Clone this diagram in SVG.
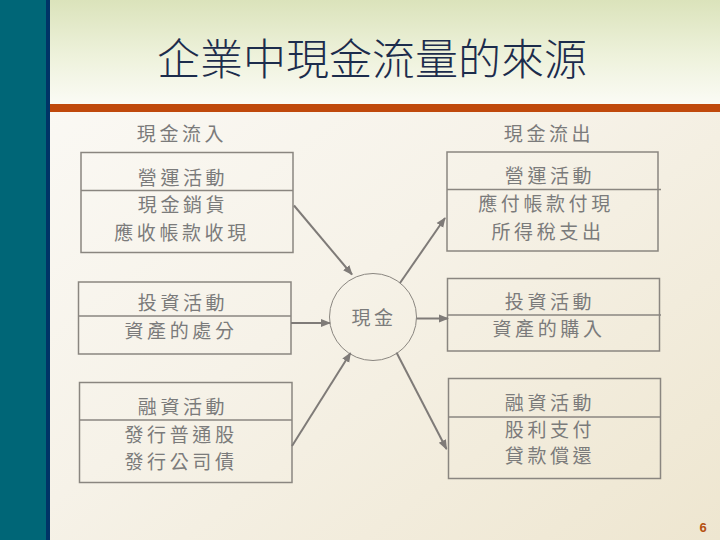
<svg xmlns="http://www.w3.org/2000/svg" width="720" height="540" viewBox="0 0 720 540">
<defs>
<linearGradient id="body" x1="0" y1="0" x2="1" y2="1">
<stop offset="0" stop-color="#fcfbf8"/>
<stop offset="0.5" stop-color="#f6f2e8"/>
<stop offset="1" stop-color="#eee6d0"/>
</linearGradient>
<linearGradient id="head" x1="0" y1="0" x2="0" y2="1">
<stop offset="0" stop-color="#dbe3bb"/>
<stop offset="0.55" stop-color="#eef2dc"/>
<stop offset="1" stop-color="#fbfbf5"/>
</linearGradient>
<marker id="ah" viewBox="0 0 10 10" refX="9" refY="5" markerWidth="5" markerHeight="5" orient="auto" markerUnits="strokeWidth">
<path d="M0,1 L10,5 L0,9 Z" fill="#7f7b78"/>
</marker>
<style>
.box{fill:none;stroke:#8a8680;stroke-width:1.5}
.div{stroke:#8a8680;stroke-width:1.3}
.t{font-family:"Noto Sans CJK TC","Noto Sans CJK SC",sans-serif;font-size:19px;fill:#7b7b7b;text-anchor:middle;letter-spacing:3.6px}
.c{fill:none;stroke:#8a8680;stroke-width:1}
.arr{fill:none;stroke:#7f7b78;stroke-width:2;marker-end:url(#ah)}
</style>
</defs>
<rect x="0" y="0" width="720" height="540" fill="url(#body)"/>
<rect x="50" y="0" width="670" height="104" fill="url(#head)"/>
<rect x="50" y="104" width="670" height="8" fill="#c0490c"/>
<rect x="0" y="0" width="46" height="540" fill="#006677"/>
<rect x="46" y="0" width="4" height="540" fill="#003366"/>
<text x="372" y="75" font-family="'Noto Sans CJK TC','Noto Sans CJK SC',sans-serif" font-size="43" font-weight="300" fill="#1c2c4c" text-anchor="middle">企業中現金流量的來源</text>
<text class="t" x="182" y="141">現金流入</text>
<text class="t" x="549" y="141">現金流出</text>
<g id="in-operating">
<rect class="box" x="81" y="152.5" width="212" height="100"/>
<line class="div" x1="81" y1="190.5" x2="293" y2="190.5"/>
<text class="t" x="183" y="185">營運活動</text>
<text class="t" x="183" y="212">現金銷貨</text>
<text class="t" x="182" y="240">應收帳款收現</text>
</g>
<g id="in-investing">
<rect class="box" x="78.5" y="282" width="212.5" height="72"/>
<line class="div" x1="78.5" y1="316" x2="291" y2="316"/>
<text class="t" x="183" y="310">投資活動</text>
<text class="t" x="181" y="338">資產的處分</text>
</g>
<g id="in-financing">
<rect class="box" x="79.5" y="382.5" width="212.5" height="100"/>
<line class="div" x1="79.5" y1="420" x2="292" y2="420"/>
<text class="t" x="183" y="414">融資活動</text>
<text class="t" x="181" y="442">發行普通股</text>
<text class="t" x="181" y="469">發行公司債</text>
</g>
<g id="cash">
<circle class="c" cx="373" cy="317" r="43.5"/>
<text class="t" x="374" y="325">現金</text>
</g>
<g id="out-operating">
<rect class="box" x="447" y="152" width="211" height="99"/>
<line class="div" x1="447" y1="189.5" x2="661" y2="189.5"/>
<text class="t" x="550" y="183">營運活動</text>
<text class="t" x="546" y="211">應付帳款付現</text>
<text class="t" x="548" y="239">所得稅支出</text>
</g>
<g id="out-investing">
<rect class="box" x="447.5" y="278.5" width="212" height="72.5"/>
<line class="div" x1="447.5" y1="315" x2="661" y2="315"/>
<text class="t" x="550" y="309">投資活動</text>
<text class="t" x="549" y="336">資產的購入</text>
</g>
<g id="out-financing">
<rect class="box" x="448.5" y="378.5" width="212" height="100"/>
<line class="div" x1="448.5" y1="417" x2="660.5" y2="417"/>
<text class="t" x="550" y="410">融資活動</text>
<text class="t" x="550" y="437">股利支付</text>
<text class="t" x="550" y="463">貸款償還</text>
</g>
<g id="connectors">
<line class="arr" x1="294" y1="205.5" x2="352" y2="274.5"/>
<line class="arr" x1="291" y1="323" x2="330" y2="323"/>
<line class="arr" x1="292" y1="446" x2="350.5" y2="353"/>
<line class="arr" x1="400" y1="283" x2="445" y2="218"/>
<line class="arr" x1="416.5" y1="318.5" x2="448" y2="318.5"/>
<line class="arr" x1="396.5" y1="352.5" x2="446.5" y2="449"/>
</g>
<text x="703" y="532" font-family="'Liberation Sans',Arial,sans-serif" font-size="13" font-weight="bold" fill="#b5500f" text-anchor="middle">6</text>
</svg>
